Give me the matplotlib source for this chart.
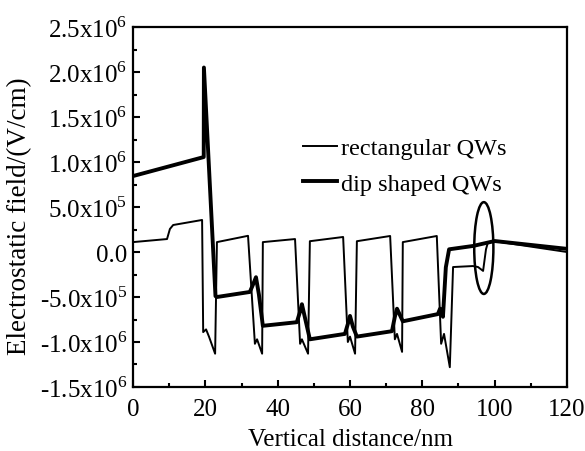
import numpy as np
import matplotlib
matplotlib.use("Agg")
import matplotlib.pyplot as plt
from matplotlib.patches import Ellipse
from matplotlib.ticker import MultipleLocator

plt.rcParams['font.family'] = ['Liberation Serif', 'DejaVu Serif']
plt.rcParams['mathtext.fontset'] = 'custom'
plt.rcParams['mathtext.rm'] = 'Liberation Serif'

# rectangular QWs (thin line), x in nm, field in 1e6 V/cm
rect_x = [0, 9.4, 10.2, 11.1, 19.1, 19.4, 20.2, 21.0, 22.7, 23.2,
          31.8, 33.7, 34.3, 35.7, 35.9,
          44.8, 46.2, 46.7, 48.4, 48.9,
          58.1, 59.4, 60.0, 61.4, 61.9,
          71.1, 72.4, 73.0, 74.4, 74.6,
          84.0, 85.2, 86.0, 87.6, 88.5,
          94.0, 95.4, 96.8, 97.6, 98.1, 100, 120]
rect_y = [0.11, 0.144, 0.256, 0.30, 0.356, -0.89, -0.86, -0.94, -1.13, 0.11,
          0.18, -1.02, -0.97, -1.13, 0.11,
          0.144, -1.02, -0.97, -1.13, 0.12,
          0.167, -1.0, -0.94, -1.13, 0.12,
          0.178, -0.97, -0.91, -1.11, 0.11,
          0.178, -1.02, -0.91, -1.28, -0.167,
          -0.156, -0.167, -0.21, 0.03, 0.10, 0.12, 0.0]

# dip shaped QWs (thick line)
dip_x = [0, 19.55, 19.6, 22.8, 23.2,
         32.3, 33.2, 34.0, 34.8, 35.9,
         45.3, 46.2, 46.7, 47.6, 48.9,
         58.6, 59.4, 60.0, 60.8, 61.9,
         71.6, 72.4, 73.0, 73.8, 74.6,
         84.3, 84.9, 85.7, 86.5, 87.4,
         94.0, 100, 120]
dip_y = [0.844, 1.055, 2.05, -0.49, -0.5,
         -0.444, -0.36, -0.28, -0.47, -0.82,
         -0.78, -0.66, -0.58, -0.74, -0.97,
         -0.91, -0.8, -0.71, -0.83, -0.94,
         -0.88, -0.72, -0.63, -0.70, -0.77,
         -0.69, -0.63, -0.72, -0.17, 0.03,
         0.067, 0.122, 0.035]

yticks = [2.5e6, 2.0e6, 1.5e6, 1.0e6, 5.0e5, 0.0, -5.0e5, -1.0e6, -1.5e6]
ytick_labels = ['2.5x10$^6$', '2.0x10$^6$', '1.5x10$^6$', '1.0x10$^6$', '5.0x10$^5$',
                '0.0', '-5.0x10$^5$', '-1.0x10$^6$', '-1.5x10$^6$']

fig = plt.figure(figsize=(5.85, 4.52), dpi=100)
ax = fig.add_axes([0.2274, 0.1416, 0.7418, 0.7964])

ax.plot(rect_x, np.array(rect_y) * 1e6, color='black', lw=1.4, label='rectangular QWs')
ax.plot(dip_x, np.array(dip_y) * 1e6, color='black', lw=2.8, label='dip shaped QWs')

ax.add_patch(Ellipse((97, 0.044e6), 5.3, 1.02e6, fill=False, lw=1.8, color='black'))

ax.set_xlim(0, 120)
ax.set_ylim(-1.5e6, 2.5e6)
ax.set_xticks([0, 20, 40, 60, 80, 100, 120])
ax.xaxis.set_minor_locator(MultipleLocator(10))
ax.set_yticks(yticks)
ax.set_yticklabels(ytick_labels)
ax.yaxis.set_minor_locator(MultipleLocator(2.5e5))
ax.tick_params(which='both', direction='in', top=False, right=False, labelsize=18, width=1.5)
ax.tick_params(which='major', length=5, pad=4)
ax.tick_params(axis='x', which='major', pad=8)
ax.tick_params(which='minor', length=3)
for s in ax.spines.values():
    s.set_linewidth(1.6)

ax.set_xlabel('Vertical distance/nm', fontsize=18, labelpad=6)
ax.set_ylabel('Electrostatic field/(V/cm)', fontsize=19.5)
ax.yaxis.set_label_coords(-0.232, 0.478)

ax.legend(loc='upper left', bbox_to_anchor=(0.364, 0.727), frameon=False, fontsize=17.5,
          handlelength=1.4, handletextpad=0.15, labelspacing=0.55, borderpad=0)

fig.savefig('out.png', dpi=100)
